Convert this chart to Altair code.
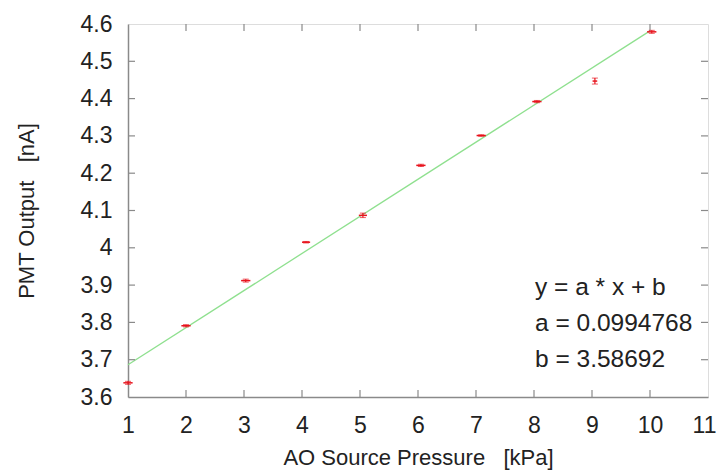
import altair as alt
import pandas as pd

# measured data
pressure = [1.0, 2.0, 3.03, 4.07, 5.05, 6.05, 7.09, 8.05, 9.05, 10.03]
pmt = [3.638, 3.791, 3.912, 4.015, 4.087, 4.221, 4.301, 4.392, 4.447, 4.579]
x_err = [0.08, 0.08, 0.08, 0.07, 0.07, 0.08, 0.08, 0.08, 0.04, 0.08]
y_err = [0.004, 0.003, 0.004, 0.002, 0.006, 0.003, 0.002, 0.003, 0.008, 0.004]

fit_a = 0.0994768
fit_b = 3.58692
fit_x = [1, 10]

x_ticks = [1, 2, 3, 4, 5, 6, 7, 8, 9, 10, 11]
y_ticks = [3.6, 3.7, 3.8, 3.9, 4.0, 4.1, 4.2, 4.3, 4.4, 4.5, 4.6]

annot = ["y = a * x + b", f"a = {fit_a}", f"b = {fit_b}"]

W, H = 580, 373
FONT = "Liberation Sans"
GRAY = "#8a8a8a"
RED = "#e8141e"
GREEN = "#8fe08f"
NB = "\u00a0"

df = pd.DataFrame({"x": pressure, "y": pmt, "xe": x_err, "ye": y_err})
df["xlo"] = df.x - df.xe
df["xhi"] = df.x + df.xe
df["ylo"] = df.y - df.ye
df["yhi"] = df.y + df.ye

xs = alt.Scale(domain=[1, 11], nice=False)
ys = alt.Scale(domain=[3.6, 4.6], nice=False, zero=False)

xax = alt.Axis(values=x_ticks, tickSize=0, labelFontSize=23, labelPadding=17,
               labelOverlap=False, labelFlush=False,
               labelOffset={"condition": {"test": "datum.value >= 11", "value": -4}, "value": 0},
               title=f"AO Source Pressure{NB*3}[kPa]", titleFontSize=22, titleFontWeight="normal",
               titlePadding=10, grid=False, domainColor=GRAY, domainWidth=1.5,
               labelColor="#222", titleColor="#222", labelFont=FONT, titleFont=FONT,
               format="d")
yax = alt.Axis(values=y_ticks, tickSize=0, labelFontSize=23, labelPadding=16,
               labelOverlap=False, labelFlush=False,
               title=f"PMT Output{NB*3}[nA]", titleFontSize=22, titleFontWeight="normal",
               titlePadding=42, grid=False, domainColor=GRAY, domainWidth=1.5,
               labelColor="#222", titleColor="#222", labelFont=FONT, titleFont=FONT,
               format="~g")

fit_df = pd.DataFrame({"x": fit_x})
fit = alt.Chart(fit_df).transform_calculate(
    y=f"{fit_a} * datum.x + {fit_b}"
).mark_line(color=GREEN, strokeWidth=1.3).encode(
    x=alt.X("x:Q", scale=xs, axis=xax),
    y=alt.Y("y:Q", scale=ys, axis=yax),
)

base = alt.Chart(df)
hbar = base.mark_rule(color=RED, strokeWidth=1.5).encode(
    x=alt.X("xlo:Q", scale=xs, axis=xax), x2="xhi:Q", y=alt.Y("y:Q", scale=ys, axis=yax))
vbar = base.mark_rule(color=RED, strokeWidth=1.2).encode(
    x=alt.X("x:Q", scale=xs, axis=xax), y=alt.Y("ylo:Q", scale=ys, axis=yax), y2="yhi:Q")
cap_lo = base.mark_tick(color=RED, orient="horizontal", size=6, thickness=1).encode(
    x=alt.X("x:Q", scale=xs, axis=xax), y=alt.Y("ylo:Q", scale=ys, axis=yax))
cap_hi = base.mark_tick(color=RED, orient="horizontal", size=6, thickness=1).encode(
    x=alt.X("x:Q", scale=xs, axis=xax), y=alt.Y("yhi:Q", scale=ys, axis=yax))

# inward ticks
xt = pd.DataFrame({"t": x_ticks[1:-1]})
yt = pd.DataFrame({"t": y_ticks[1:-1]})
TL = 7
xt_bot = alt.Chart(xt).mark_rule(color=GRAY, strokeWidth=1.2).encode(
    x=alt.X("t:Q", scale=xs, axis=xax), y=alt.value(H), y2=alt.value(H - TL))
xt_top = alt.Chart(xt).mark_rule(color=GRAY, strokeWidth=1.2).encode(
    x=alt.X("t:Q", scale=xs, axis=xax), y=alt.value(0), y2=alt.value(TL))
yt_left = alt.Chart(yt).mark_rule(color=GRAY, strokeWidth=1.2).encode(
    y=alt.Y("t:Q", scale=ys, axis=yax), x=alt.value(0), x2=alt.value(TL))
yt_right = alt.Chart(yt).mark_rule(color=GRAY, strokeWidth=1.2).encode(
    y=alt.Y("t:Q", scale=ys, axis=yax), x=alt.value(W), x2=alt.value(W - TL))

ann_rows = [264, 300, 336]
anns = [
    alt.Chart(pd.DataFrame({"label": [lab]})).mark_text(
        align="left", baseline="middle", fontSize=24.5, font=FONT, color="#222"
    ).encode(x=alt.value(407), y=alt.value(yy), text="label:N")
    for lab, yy in zip(annot, ann_rows)
]

chart = alt.layer(
    fit, xt_bot, xt_top, yt_left, yt_right, hbar, vbar, cap_lo, cap_hi, *anns
).properties(
    width=W, height=H,
    autosize=alt.AutoSizeParams(type="none"),
    padding={"left": 120, "top": 16, "right": 9, "bottom": 77},
).configure_axis(
    labelOverlap=False, labelFlush=False
).configure_view(
    stroke=GRAY, strokeWidth=1.5
).configure(background="white")

chart.save("out.html", embed_options={"renderer": "svg", "actions": False})
